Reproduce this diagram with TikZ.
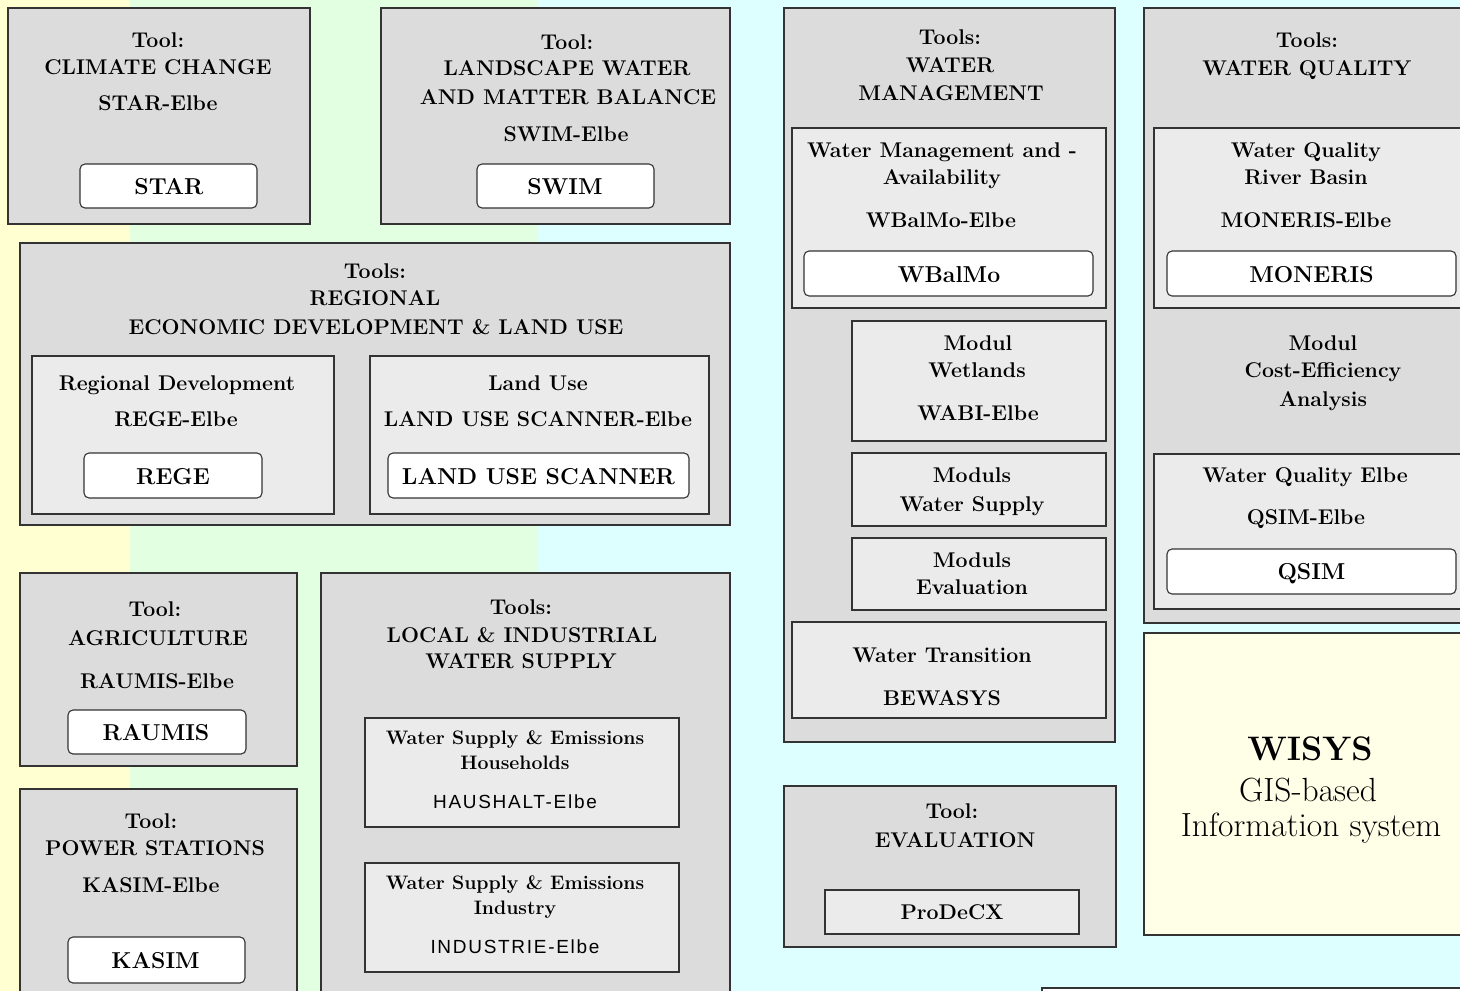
\documentclass[tikz,border=0pt]{standalone}
\usepackage{fontspec}
\newfontfamily\hfont{Liberation Sans}[LetterSpace=9]
\definecolor{bgY}{HTML}{FFFFD2}
\definecolor{bgG}{HTML}{E2FFE2}
\definecolor{bgC}{HTML}{DDFFFF}
\definecolor{outerG}{HTML}{DCDCDC}
\definecolor{innerG}{HTML}{EBEBEB}
\definecolor{wisysY}{HTML}{FFFFE8}
\definecolor{edge}{HTML}{333333}
\tikzset{
  outerbox/.style={fill=outerG,draw=edge,line width=1.3pt},
  innerbox/.style={fill=innerG,draw=edge,line width=1.3pt},
  toolbox/.style={fill=white,draw=edge,line width=1.1pt,rounded corners=5pt},
  wisysbox/.style={fill=wisysY,draw=edge,line width=1.3pt},
  txt/.style={anchor=base,inner sep=0pt,font=\fontsize{21.3}{26}\selectfont\bfseries},
  btxt/.style={anchor=base,inner sep=0pt,font=\fontsize{23}{28}\selectfont\bfseries},
  stxt/.style={anchor=base,inner sep=0pt,font=\fontsize{19.5}{22}\selectfont\bfseries},
  htxt/.style={anchor=base,inner sep=0pt,font=\fontsize{19}{21}\selectfont\hfont},
}
\newcommand\Tl[4]{\node[txt] (#1) at (#2,#3+7.5) {#4};}
\newcommand\Tb[4]{\node[btxt] (#1) at (#2,#3+8) {#4};}
\newcommand\Ts[4]{\node[stxt] (#1) at (#2,#3+6.5) {#4};}
\newcommand\Th[4]{\node[htxt] (#1) at (#2,#3+7) {#4};}
\begin{document}
\begin{tikzpicture}[x=1pt,y=-1pt]
\useasboundingbox (0,0) rectangle (1460,991);
\clip (0,0) rectangle (1460,991);
% background stripes
\fill[bgY] (0,0) rectangle (130,991);
\fill[bgG] (130,0) rectangle (538,991);
\fill[bgC] (538,0) rectangle (1460,991);

% ---- CLIMATE CHANGE
\draw[outerbox] (8,8) rectangle (310,224);
\Tl{a1}{158}{40}{Tool:}
\Tl{a2}{158}{67}{CLIMATE CHANGE}
\Tl{a3}{158}{103}{STAR-Elbe}
\draw[toolbox] (80,164) rectangle (257,208);
\Tb{a4}{169}{186}{STAR}

% ---- LANDSCAPE
\draw[outerbox] (381,8) rectangle (730,224);
\Tl{b1}{567}{42}{Tool:}
\Tl{b2}{567}{68}{LANDSCAPE WATER}
\Tl{b3}{568}{97}{AND MATTER BALANCE}
\Tl{b4}{566}{134}{SWIM-Elbe}
\draw[toolbox] (477,164) rectangle (654,208);
\Tb{b5}{565}{186}{SWIM}

% ---- WATER MANAGEMENT
\draw[outerbox] (784,8) rectangle (1115,742);
\Tl{c1}{950}{37}{Tools:}
\Tl{c2}{950}{65}{WATER}
\Tl{c3}{951}{93}{MANAGEMENT}
\draw[innerbox] (792,128) rectangle (1106,308);
\Tl{c4}{942}{150}{Water Management and -}
\Tl{c5}{942}{177}{Availability}
\Tl{c6}{941}{220}{WBalMo-Elbe}
\draw[toolbox] (804,251) rectangle (1093,296);
\Tb{c7}{949}{274}{WBalMo}
\draw[innerbox] (852,321) rectangle (1106,441);
\Tl{c8}{978}{343}{Modul}
\Tl{c9}{977}{370}{Wetlands}
\Tl{c10}{978}{413}{WABI-Elbe}
\draw[innerbox] (852,453) rectangle (1106,526);
\Tl{c11}{972}{475}{Moduls}
\Tl{c12}{972}{504}{Water Supply}
\draw[innerbox] (852,538) rectangle (1106,610);
\Tl{c13}{972}{560}{Moduls}
\Tl{c14}{972}{587}{Evaluation}
\draw[innerbox] (792,622) rectangle (1106,718);
\Tl{c15}{942}{655}{Water Transition}
\Tl{c16}{942}{698}{BEWASYS}

% ---- WATER QUALITY
\draw[outerbox] (1144,8) rectangle (1475,623);
\Tl{d1}{1307}{40}{Tools:}
\Tl{d2}{1307}{68}{WATER QUALITY}
\draw[innerbox] (1154,128) rectangle (1475,308);
\Tl{d3}{1306}{150}{Water Quality}
\Tl{d4}{1306}{177}{River Basin}
\Tl{d5}{1306}{220}{MONERIS-Elbe}
\draw[toolbox] (1167,251) rectangle (1456,296);
\Tb{d6}{1311.5}{274}{MONERIS}
\Tl{d7}{1323}{343}{Modul}
\Tl{d8}{1323}{370}{Cost-Efficiency}
\Tl{d9}{1323}{399}{Analysis}
\draw[innerbox] (1154,454) rectangle (1475,609);
\Tl{d10}{1305}{475}{Water Quality Elbe}
\Tl{d11}{1306}{517}{QSIM-Elbe}
\draw[toolbox] (1167,549) rectangle (1456,594);
\Tb{d12}{1311.5}{571}{QSIM}

% ---- WISYS
\draw[wisysbox] (1144,633) rectangle (1475,935);
\node[anchor=base,inner sep=0pt,font=\fontsize{34}{40}\selectfont\bfseries] (w1) at (1310,748+12) {WISYS};
\node[anchor=base,inner sep=0pt,font=\fontsize{33.5}{36}\selectfont] (w2) at (1308,790+11) {GIS-based};
\node[anchor=base,inner sep=0pt,font=\fontsize{33.5}{36}\selectfont] (w3) at (1311,825+11) {Information system};

% ---- bottom partial box
\draw[fill=white,draw=edge,line width=1.3pt] (1042,988) rectangle (1475,1010);

% ---- REGIONAL
\draw[outerbox] (20,243) rectangle (730,525);
\Tl{e1}{375}{271}{Tools:}
\Tl{e2}{375}{298}{REGIONAL}
\Tl{e3}{376}{327}{ECONOMIC DEVELOPMENT \& LAND USE}
\draw[innerbox] (32,356) rectangle (334,514);
\Tl{e4}{177}{383}{Regional Development}
\Tl{e5}{176}{419}{REGE-Elbe}
\draw[toolbox] (84,453) rectangle (262,498);
\Tb{e6}{173}{476}{REGE}
\draw[innerbox] (370,356) rectangle (709,514);
\Tl{e7}{538}{383}{Land Use}
\Tl{e8}{538}{419}{LAND USE SCANNER-Elbe}
\draw[toolbox] (388,453) rectangle (689,498);
\Tb{e9}{538.5}{476}{LAND USE SCANNER}

% ---- AGRICULTURE
\draw[outerbox] (20,573) rectangle (297,766);
\Tl{f1}{155}{609}{Tool:}
\Tl{f2}{158}{638}{AGRICULTURE}
\Tl{f3}{157}{681}{RAUMIS-Elbe}
\draw[toolbox] (68,710) rectangle (246,754);
\Tb{f4}{156}{732}{RAUMIS}

% ---- POWER STATIONS
\draw[outerbox] (20,789) rectangle (297,1005);
\Tl{g1}{151}{821}{Tool:}
\Tl{g2}{155}{848}{POWER STATIONS}
\Tl{g3}{151}{885}{KASIM-Elbe}
\draw[toolbox] (68,937) rectangle (245,983);
\Tb{g4}{155.5}{960}{KASIM}

% ---- LOCAL & INDUSTRIAL
\draw[outerbox] (321,573) rectangle (730,1005);
\Tl{h1}{521}{607}{Tools:}
\Tl{h2}{522}{635}{LOCAL \& INDUSTRIAL}
\Tl{h3}{521}{661}{WATER SUPPLY}
\draw[innerbox] (365,718) rectangle (679,827);
\Ts{h4}{515}{738}{Water Supply \& Emissions}
\Ts{h5}{515}{763}{Households}
\Th{h6}{515}{801}{HAUSHALT-Elbe}
\draw[innerbox] (365,863) rectangle (679,972);
\Ts{h7}{515}{883}{Water Supply \& Emissions}
\Ts{h8}{515}{908}{Industry}
\Th{h9}{515}{946}{INDUSTRIE-Elbe}

% ---- EVALUATION
\draw[outerbox] (784,786) rectangle (1116,947);
\Tl{i1}{952}{811}{Tool:}
\Tl{i2}{955}{840}{EVALUATION}
\draw[innerbox] (825,890) rectangle (1079,934);
\Tl{i3}{952}{912}{ProDeCX}
\end{tikzpicture}
\end{document}
